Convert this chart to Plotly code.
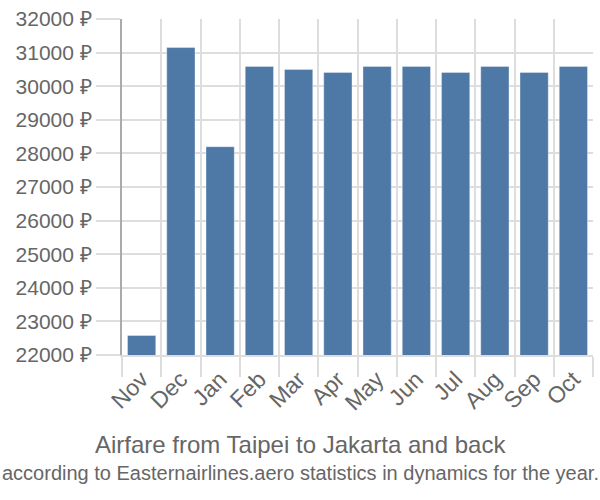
import plotly.graph_objects as go

months = ["Nov", "Dec", "Jan", "Feb", "Mar", "Apr", "May", "Jun", "Jul", "Aug", "Sep", "Oct"]
prices = [22580, 31150, 28200, 30590, 30500, 30410, 30590, 30590, 30410, 30590, 30410, 30590]
y_ticks = list(range(22000, 32001, 1000))
y_tick_labels = [f"{v} ₽" for v in y_ticks]

title_text = "Airfare from Taipei to Jakarta and back"
subtitle_text = "according to Easternairlines.aero statistics in dynamics for the year."

W, H = 600, 500
ML, MR, MT, MB = 122, 7, 14, 145
plot_w = W - ML - MR
plot_h = H - MT - MB

def px_x(x):
    return (x - ML) / plot_w

def px_y(y):
    return (H - MB - y) / plot_h

fig = go.Figure()
fig.add_trace(go.Bar(
    x=months, y=prices,
    marker=dict(color="#4e79a7", line=dict(color="rgba(255,255,255,0.35)", width=1)),
))

fig.update_layout(
    width=W, height=H,
    margin=dict(l=ML, r=MR, t=MT, b=MB),
    paper_bgcolor="white", plot_bgcolor="white",
    font=dict(family="Liberation Sans, Arial, sans-serif", color="#666666", size=20),
    bargap=0.28,
    showlegend=False,
    annotations=[
        dict(text=title_text, x=px_x(300), xref="paper", y=px_y(446), yref="paper",
             showarrow=False, font=dict(size=24, color="#666666"),
             xanchor="center", yanchor="middle"),
        dict(text=subtitle_text, x=px_x(300), xref="paper", y=px_y(475), yref="paper",
             showarrow=False, font=dict(size=20, color="#666666"),
             xanchor="center", yanchor="middle"),
    ],
)

fig.update_xaxes(
    type="category", tickson="boundaries", showgrid=True, gridcolor="#dddddd", gridwidth=1.5,
    ticks="outside", ticklen=20, tickcolor="#dddddd", tickwidth=1.5,
    tickangle=-45, tickfont=dict(size=23, color="#666666"),
    showline=True, linecolor="#dddddd", linewidth=1.5,
)
fig.update_yaxes(
    range=[22000, 32000], tickvals=y_ticks, ticktext=y_tick_labels,
    showgrid=True, gridcolor="#dddddd", gridwidth=1.5,
    ticks="outside", ticklen=24, tickcolor="#dddddd", tickwidth=1.5,
    tickfont=dict(size=21, color="#666666"),
    showline=True, linecolor="#aaaaaa", linewidth=2, zeroline=False,
)

fig.write_html("out.html")
